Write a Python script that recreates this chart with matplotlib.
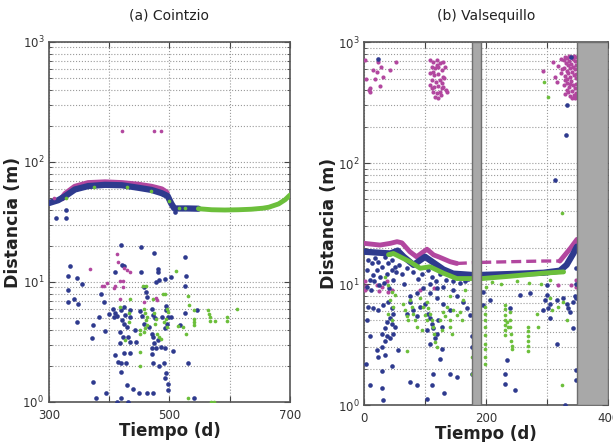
import matplotlib
matplotlib.use("Agg")
import matplotlib.pyplot as plt
import matplotlib.ticker as ticker

# ---------------------------------------------------------------
# Colours
# ---------------------------------------------------------------
BLUE = "#2e3a8e"
MAG = "#b2479f"
GREEN = "#6cbf3b"
BAND = "#a8a8a8"

# ---------------------------------------------------------------
# (a) Cointzio
# ---------------------------------------------------------------
a_blue_curve_t = [300, 315, 327, 343, 365, 393, 421, 448, 470, 487, 497, 503, 508, 515, 530, 548]
a_blue_curve_d = [45.5, 48, 52, 59, 63, 64.5, 64, 61, 58.5, 55, 52, 45, 41, 41, 41, 40.8]
a_mag_curve_t = [322, 327, 343, 365, 393, 421, 448, 470, 487, 495]
a_mag_curve_d = [50, 54, 62, 66.5, 67.5, 66.5, 64.5, 62, 59, 55.5]
a_green_curve_t = [548, 570, 592, 615, 636, 655, 665, 681, 692, 700]
a_green_curve_d = [40.8, 40, 39.8, 40, 40.4, 41.2, 42, 44.7, 48.5, 53]

a_blue_t = [311, 328, 328, 509, 419.5, 453, 474, 526, 335, 421, 425, 481, 481, 331.5, 347,
            409, 452, 502, 492.5, 527, 355, 477, 482.6, 332, 387, 458, 525.7, 341.5, 347.6,
            331, 392, 462.7, 399, 382.4, 347, 372.5, 393.5, 371.4, 408, 412.3, 420, 425,
            426.7, 421, 424.5, 429.5, 417.8, 423.4, 431.7, 435, 444.4, 418, 410, 415, 420,
            427, 425, 435, 419.5, 429, 440, 419, 430.6, 413.4, 448.8, 462, 473, 394.6,
            378.6, 372.5, 451, 453.8, 457.7, 466.5, 470.4, 473.2, 474.3, 477, 471.5, 470.4,
            473, 483, 481, 486.4, 492, 492.5, 493.6, 498, 498, 491, 494.2, 494.2, 498, 502,
            495.3, 492.6, 471, 473.2, 487, 476, 506.4, 517.4, 525.7, 545, 531, 540.7,
            461.5, 442, 434, 435, 406.8, 409.5]
a_blue_d = [34.4, 40, 34, 38, 20.2, 19.5, 17.5, 16.3, 13.7, 13.9, 13.5, 12.8, 12.1, 11.2, 10.9,
            12.2, 12.1, 11.1, 10.5, 11.3, 9.6, 10, 10.3, 8.6, 8.0, 9.1, 9.2, 7.2, 6.5,
            6.8, 6.8, 7.5, 5.4, 5.1, 4.6, 4.4, 3.9, 3.4, 5.1, 5.2, 5.8, 6.2,
            5.3, 4.8, 4.5, 4.2, 3.85, 3.5, 3.45, 3.15, 3.16, 3.1, 2.48, 2.17, 2.1,
            2.1, 2.57, 2.57, 1.77, 1.38, 1.28, 1.07, 1.0, 1.0, 1.18, 1.18, 1.18, 1.18,
            1.08, 1.48, 5.7, 5.25, 4.5, 4.25, 3.7, 3.46, 3.1, 2.8, 2.8, 2.5,
            2.1, 2.0, 3.3, 2.9, 2.8, 1.6, 1.73, 1.4, 1.27, 2.1, 6.3, 5.85, 5.1, 5.1,
            4.5, 4.1, 5.9, 5.3, 5.1, 4.97, 2.68, 4.4, 5.55, 5.85, 2.1, 1.07,
            8.3, 4.0, 5.8, 5.15, 6.0, 5.5]

a_mag_t = [367.5, 413.4, 415, 430, 434.4, 425, 395.7, 391.3, 387.4, 409.5, 417.8, 422.3,
           423.5, 408.4, 417.8, 457.7, 477, 479.8, 420.6, 474.3, 485.4, 308]
a_mag_d = [12.9, 17, 14.8, 12.6, 12.2, 13.0, 9.75, 9.2, 9.3, 9.3, 10.2, 10.2,
           9.15, 8.9, 7.25, 6.8, 7.3, 7.1, 181, 181, 181, 50]

a_green_t = [510, 456.6, 460.5, 488.7, 493, 531, 434.4, 472.6, 418, 458, 459.9, 462.7, 460.5,
             462, 459.3, 458, 451, 451, 474.8, 477.6, 476.5, 478.7, 482.6, 486.4, 495.3, 497,
             493.6, 490.9, 495.3, 433.3, 433.3, 426.1, 451, 451, 513.6, 521.8, 527.4, 540.7,
             540.7, 540.7, 540.7, 564.5, 566, 567.2, 567.2, 575.5, 596, 596, 612.6, 531.3,
             568.3, 574.4, 531.9, 328, 375, 430, 470, 500, 515, 525]
a_green_d = [12.3, 9.2, 9.2, 8.0, 8.0, 7.7, 7.2, 7.25, 6.15, 5.9, 5.55, 5.1, 4.8,
             4.4, 4.1, 3.85, 3.98, 3.7, 5.5, 4.9, 4.5, 3.7, 3.5, 3.35, 6.0, 5.6,
             4.95, 4.6, 4.2, 4.6, 5.5, 3.3, 2.0, 2.6, 4.3, 4.2, 3.7, 4.95,
             4.6, 4.4, 5.85, 5.85, 5.4, 5.1, 4.7, 4.7, 5.1, 4.7, 6.0, 1.07,
             1.0, 1.0, 6.4, 50, 62, 62, 57, 47, 41, 41]

# ---------------------------------------------------------------
# (b) Valsequillo
# ---------------------------------------------------------------
b_gaps = [(177.6, 191.3), (348.6, 400)]

b_mag_curve1_t = [0, 26, 43, 54, 62, 75, 86, 103, 114, 122, 141, 152]
b_mag_curve1_d = [21.7, 21, 21.7, 22.4, 21.9, 18.5, 16.8, 19.4, 17.4, 16.8, 15.3, 14.8]
b_mag_dash1_t = [152, 177]
b_mag_dash1_d = [14.8, 15.0]
b_mag_dash2_t = [192, 240, 294, 321]
b_mag_dash2_d = [15.1, 15.3, 15.5, 15.5]
b_mag_curve2_t = [321, 338, 349]
b_mag_curve2_d = [15.5, 19.7, 23.4]

b_blue_curve1_t = [0, 21, 43, 55, 65, 81, 100, 114, 130, 146, 176]
b_blue_curve1_d = [18.5, 18.2, 17.9, 18.9, 16.8, 14.4, 16.8, 15, 13.2, 12.2, 11.9]
b_blue_curve2_t = [193, 239, 294, 321, 332, 343, 349]
b_blue_curve2_d = [11.9, 12.1, 12.4, 12.9, 14.4, 17.9, 20.4]

b_green_curve1_t = [40, 48, 75, 92, 108, 130, 152, 176]
b_green_curve1_d = [17.5, 17.9, 15.3, 13.5, 13.9, 12.3, 11.1, 11.1]
b_green_curve2_t = [193, 239, 294, 327]
b_green_curve2_d = [11.1, 11.6, 12.3, 12.6]

b_blue_t = [7.1, 12.6, 18, 23.5, 29, 34.4, 39.9, 45.4, 20.8, 15.3, 26.2, 37.2, 45.4, 50.8, 4.4,
            9.8, 7.1, 15.3, 23.5, 31.7, 39.9, 45.4, 48.1, 42.6, 37.2, 34.4, 29, 37.2, 42.6,
            45.4, 50.8, 48.1, 34.4, 29, 20.8, 9.8, 4.4, 3.3, 23.5, 29, 34.4, 45.4, 9.8, 29,
            31.7, 56.3, 75.4, 80.9, 86.3, 69.9, 91.8, 100, 105.5, 108.2, 110.9, 113.7, 119.1,
            121.9, 127.3, 116.4, 102.7, 108.2, 127.3, 124.6, 113.7, 110.9, 102.7, 75.4, 86.3,
            131.1, 141, 151.9, 75.4, 86.3, 97.3, 108.2, 119.1, 130, 141, 108.2, 119.1, 130,
            146.4, 151.9, 162.8, 168.3, 173.8, 176.5, 177, 177, 195.6, 195.6, 206.6, 233.9,
            231.1, 231.1, 247.5, 239.3, 255.7, 272.1, 299.5, 302.2, 304.9, 304.9, 315.8, 326.8,
            332.2, 335, 337.7, 343.2, 345.9, 347.5, 347.5, 347.5, 347.5, 347.5, 316.9, 329.5,
            343.2, 296.7, 294, 300.5, 5, 12, 17, 25, 33, 40, 48, 52, 58, 62, 66, 70, 80, 88,
            95, 105, 112, 118, 125, 135, 145, 158, 165, 170, 339.3, 332, 330.6, 313, 23.5]
b_blue_d = [15.8, 14.8, 16.3, 15.3, 13.9, 16.8, 14.8, 15.9, 13.1, 11.9, 11.5, 12.2, 13.1, 13.9, 13.1,
            10.8, 6.5, 6.3, 6.1, 6.7, 7.1, 6.3, 5.7, 5.2, 4.9, 4.3, 3.9, 3.7, 3.6,
            4.7, 4.4, 3.9, 3.4, 3.0, 2.85, 3.7, 5.0, 2.2, 2.5, 1.9, 2.6, 2.1, 1.45, 1.37,
            1.1, 2.85, 7.1, 6.1, 5.4, 5.7, 6.5, 6.9, 5.7, 5.2, 4.7, 4.3, 3.9,
            5.0, 4.4, 3.6, 4.2, 3.2, 2.9, 2.4, 1.8, 1.45, 1.13, 1.55, 1.45,
            1.25, 1.8, 1.7, 7.9, 8.4, 9.2, 8.4, 7.6, 6.9, 6.1, 10.1, 9.2, 9.5,
            8.9, 7.9, 7.1, 6.3, 5.5, 3.7, 3.0, 1.8, 8.6, 6.7, 7.4, 2.35,
            1.8, 1.5, 1.33, 6.3, 8.1, 8.4, 8.1, 6.3, 5.2, 6.9, 7.4, 7.6,
            6.9, 6.3, 5.9, 7.1, 7.9, 7.6, 13.5, 10.1, 1.95, 1.6, 3.2, 1.0,
            4.3, 7.4, 6.1, 9.8, 9.5, 9.0, 10.5, 9.8, 10.2, 9.3, 10.8, 12.5, 14.5, 12.0, 10.0, 13.5, 12.5, 11.0,
            12.0, 13.0, 11.5, 10.5, 12.0, 10.8, 10.5, 10.2, 10.6, 11.0, 747, 302, 170, 72.4, 719]

b_green_t = [34.4, 39.9, 45.4, 50.8, 42.6, 48.1, 39.9, 45.4, 64.5, 67.2, 69.9, 72.7, 69.9, 75.4,
             78.1, 80.9, 83.6, 86.3, 91.8, 97.3, 100, 102.7, 94.5, 102.7, 105.5, 108.2, 110.9,
             113.7, 114.8, 116.4, 119.1, 124.6, 127.3, 130, 132.8, 135.5, 141, 146.4, 151.9,
             157.4, 160.1, 162.8, 165.6, 141, 141, 143.7, 176.5, 177,
             198, 198, 198, 198, 198, 198, 198, 198, 198,
             231, 231, 231, 231, 231, 231, 231, 233.9, 236.6,
             239.3, 239.3, 239.3, 240.4, 240.4, 242.1, 242.1,
             269.4, 269.4, 269.4, 269.4, 269.4, 269.4,
             283.1, 285.8, 304.9, 307.7, 318.6, 326.8, 332.2, 324,
             200, 210, 225, 250, 270, 290, 305, 295.6, 301, 324]
b_green_d = [11.5, 9.8, 8.6, 8.1, 7.4, 6.5, 5.7, 5.0, 6.9, 6.1, 5.4, 5.0, 2.8, 7.4,
             6.4, 5.7, 5.0, 4.4, 7.6, 6.5, 5.6, 5.0, 4.2, 7.1, 6.3, 5.7, 5.0,
             4.4, 3.9, 3.3, 3.0, 5.0, 4.2, 5.9, 5.4, 6.5, 7.9, 6.1, 5.5,
             5.9, 5.0, 7.4, 8.9, 5.0, 4.4, 3.9, 2.5, 1.8,
             6.5, 5.7, 5.0, 4.4, 3.8, 3.2, 2.9, 2.5, 2.2,
             6.7, 6.2, 5.5, 5.0, 4.6, 4.2, 3.8, 4.9, 4.4,
             5.9, 5.0, 4.4, 3.9, 3.4, 3.1, 2.9,
             4.4, 4.1, 3.7, 3.4, 3.1, 2.8,
             5.7, 4.4, 7.6, 6.1, 6.5, 7.1, 5.0, 1.45,
             9.5, 10.3, 10.0, 10.5, 10.2, 10.0, 10.8, 470, 353, 38.4]

b_mag_t = [1.6, 1.6, 3, 20.8, 29, 37, 39.9, 45, 25, 92, 115, 318.6, 347.5, 347.5, 340,
           # top-left cluster
           1.6, 3.3, 8.7, 9.8, 18, 20.8, 23.5, 26, 31.7, 42.6, 52.5, 9.8, 28.4, 15.3,
           # cluster near t=120
           108.2, 113.7, 119.1, 124.6, 130, 110.9, 116.4, 121.9, 127.3, 132.8, 108.2, 114.8,
           121.9, 129, 110.9, 118, 124.6, 131.1, 108.2, 114.8, 121.9, 127.3, 134.4, 112.6,
           119.1, 125.7, 116.4, 121.9, 110.9, 127.3, 119.1, 113.7, 124.6, 130, 135.5,
           # cluster before the second gap
           292.9, 310, 313, 318, 322, 316, 325, 322,
           327, 328, 329, 327, 330, 331, 332, 330, 332, 333, 334, 335, 333, 335, 336, 337,
           338, 336, 338, 339, 340, 341, 339, 341, 342, 343, 344, 342, 344, 345, 346, 347,
           345, 347, 348, 347.5, 348, 347.5, 348, 344, 336, 329, 341, 346, 338, 333]
b_mag_d = [10.5, 8.9, 9.6, 9.8, 9.5, 10.5, 8.6, 9.0, 8.8, 8.9, 9.2, 9.8, 10.7, 9.5, 9.8,
           710, 500, 401, 420, 500, 568, 690, 434, 511, 588, 688, 389, 627, 588,
           710, 688, 710, 666, 688, 625, 606, 625, 587, 625, 551, 534,
           545, 517, 485, 470, 485, 501, 441, 427, 432, 414, 401, 389,
           377, 365, 353, 348, 414, 455, 645, 569, 389, 427, 389,
           580, 688, 517, 640, 560, 470, 600, 720,
           705, 612, 522, 438, 372, 672, 575, 486, 405, 745, 648, 553, 462, 384, 702, 606,
           512, 425, 362, 758, 664, 567, 473, 395, 725, 628, 530, 445, 368, 692, 597, 503,
           414, 356, 748, 645, 546, 452, 382, 770, 770, 760, 345, 345, 450, 500]


def style_axes(ax, xlim, xticks, xlabels, title):
    ax.set_yscale("log")
    ax.set_xlim(*xlim)
    ax.set_ylim(1, 1000)
    ax.set_xticks(xticks)
    ax.set_xticklabels(xlabels)
    ax.yaxis.set_major_locator(ticker.LogLocator(base=10, numticks=5))
    ax.yaxis.set_minor_locator(ticker.LogLocator(base=10, subs=range(2, 10), numticks=20))
    ax.yaxis.set_minor_formatter(ticker.NullFormatter())
    ax.grid(True, which="major", linestyle=":", color="#9a9a9a", linewidth=0.8)
    ax.grid(True, which="minor", axis="y", linestyle=":", color="#9a9a9a", linewidth=0.8)
    ax.tick_params(which="both", direction="in", top=True, right=True,
                   colors="#444444", labelsize=8.5, labelcolor="#333333")
    ax.tick_params(which="major", length=4)
    ax.tick_params(axis="x", pad=5)
    ax.tick_params(which="minor", length=2)
    for sp in ax.spines.values():
        sp.set_color("#555555")
        sp.set_linewidth(1.2)
    ax.set_title(title, fontsize=10, pad=16, color="#222222")
    ax.set_xlabel("Tiempo (d)", fontsize=12, fontweight="bold", labelpad=0, color="#222222")
    ax.set_ylabel("Distancia (m)", fontsize=12.5, fontweight="bold", labelpad=0, color="#222222")


fig = plt.figure(figsize=(6.13, 4.42), dpi=100)
ax1 = fig.add_axes([0.080, 0.0905, 0.393, 0.8145])
ax2 = fig.add_axes([0.594, 0.0837, 0.398, 0.821])

# --- (a) Cointzio ---
ax1.plot(a_mag_curve_t, a_mag_curve_d, color=MAG, lw=4.5, solid_capstyle="round", zorder=3)
ax1.plot(a_blue_curve_t, a_blue_curve_d, color=BLUE, lw=4.5, solid_capstyle="round", zorder=4)
ax1.plot(a_green_curve_t, a_green_curve_d, color=GREEN, lw=3.5, solid_capstyle="round", zorder=5)
ax1.scatter(a_blue_t, a_blue_d, s=11, color=BLUE, zorder=4, linewidths=0)
ax1.scatter(a_green_t, a_green_d, s=7, color=GREEN, zorder=5, linewidths=0)
ax1.scatter(a_mag_t, a_mag_d, s=7, color=MAG, zorder=5, linewidths=0)
style_axes(ax1, (300, 700), [300, 400, 500, 600, 700], ["300", "", "500", "", "700"],
           "(a) Cointzio")

# --- (b) Valsequillo ---
ax2.plot(b_mag_curve1_t, b_mag_curve1_d, color=MAG, lw=3.5, solid_capstyle="round", zorder=3)
ax2.plot(b_mag_dash1_t, b_mag_dash1_d, color=MAG, lw=2.4, ls=(0, (3, 1.5)), zorder=3)
ax2.plot(b_mag_dash2_t, b_mag_dash2_d, color=MAG, lw=2.4, ls=(0, (3, 1.5)), zorder=3)
ax2.plot(b_mag_curve2_t, b_mag_curve2_d, color=MAG, lw=3.5, solid_capstyle="round", zorder=3)
ax2.plot(b_blue_curve1_t, b_blue_curve1_d, color=BLUE, lw=4.5, solid_capstyle="round", zorder=4)
ax2.plot(b_blue_curve2_t, b_blue_curve2_d, color=BLUE, lw=4.5, solid_capstyle="round", zorder=4)
ax2.plot(b_green_curve1_t, b_green_curve1_d, color=GREEN, lw=3.5, solid_capstyle="round", zorder=5)
ax2.plot(b_green_curve2_t, b_green_curve2_d, color=GREEN, lw=3.5, solid_capstyle="round", zorder=5)
ax2.scatter(b_blue_t, b_blue_d, s=11, color=BLUE, zorder=4, linewidths=0)
ax2.scatter(b_green_t, b_green_d, s=7, color=GREEN, zorder=5, linewidths=0)
ax2.scatter(b_mag_t, b_mag_d, s=9, color=MAG, zorder=3, linewidths=0)
for g0, g1 in b_gaps:
    ax2.axvspan(g0, g1, facecolor=BAND, edgecolor="#6e6e6e", linewidth=1.0, zorder=6)
style_axes(ax2, (0, 400), [0, 100, 200, 300, 400], ["0", "", "200", "", "400"],
           "(b) Valsequillo")

fig.savefig("out.png", dpi=100)
